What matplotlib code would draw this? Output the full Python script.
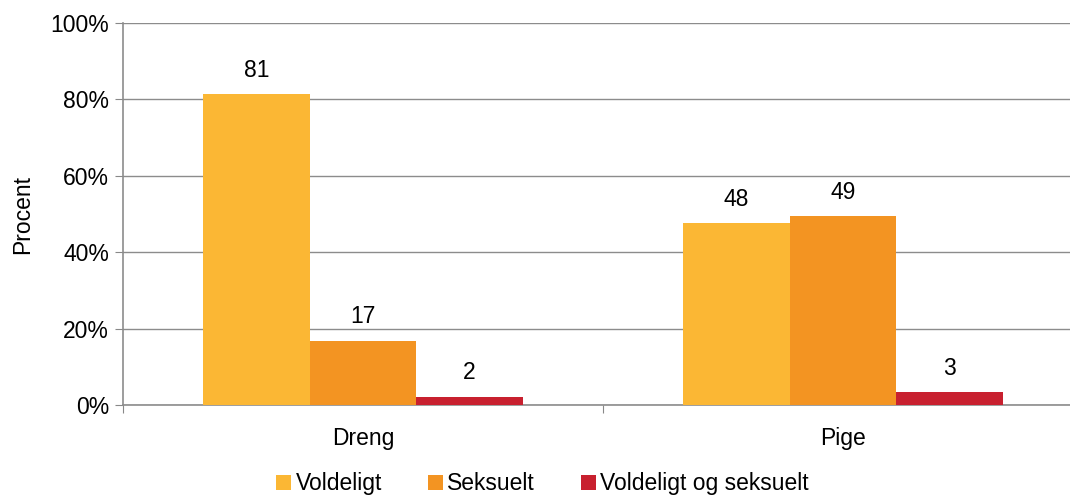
import numpy as np
import matplotlib.pyplot as plt
from matplotlib.patches import Patch

plt.rcParams['font.family'] = ['Liberation Sans', 'DejaVu Sans']

# data
categories = ["Dreng", "Pige"]
series = ["Voldeligt", "Seksuelt", "Voldeligt og seksuelt"]
heights = [
    [81.4, 47.6],   # Voldeligt
    [16.8, 49.4],   # Seksuelt
    [2.1, 3.3],     # Voldeligt og seksuelt
]
labels = [
    ["81", "48"],
    ["17", "49"],
    ["2", "3"],
]
colors = ["#FBB734", "#F39422", "#C8202F"]
yticks = [0, 20, 40, 60, 80, 100]
ytick_labels = ["0%", "20%", "40%", "60%", "80%", "100%"]

fs = 16.5

fig = plt.figure(figsize=(10.7, 4.97), dpi=100)
ax = fig.add_axes([123 / 1070, 1 - 405 / 497, 960 / 1070, 382 / 497])

x = np.arange(len(categories))
bw = 0.222
for i, (h, lab, c) in enumerate(zip(heights, labels, colors)):
    pos = x + (i - 1) * bw
    ax.bar(pos, h, width=bw, color=c, zorder=3)
    for p, v, t in zip(pos, h, lab):
        ax.annotate(t, (p, v), xytext=(0, 9), textcoords="offset points",
                    ha="center", va="bottom", fontsize=fs)

ax.set_xlim(-0.5, 1.5)
ax.set_ylim(0, 100)
ax.set_yticks(yticks)
ax.set_yticklabels(ytick_labels, fontsize=fs)
ax.set_xticks([-0.5, 0.5, 1.5])
ax.set_xticklabels([])
ax.set_xticks(x, minor=True)
ax.set_xticklabels(categories, minor=True, fontsize=fs)
ax.tick_params(axis="x", which="minor", length=0, pad=16)
ax.tick_params(axis="x", which="major", length=6, color="#888888", direction="out")
ax.tick_params(axis="y", length=6, color="#888888", direction="out", pad=4)

ax.grid(axis="y", color="#8c8c8c", linewidth=1, zorder=0)
for s in ["top", "right"]:
    ax.spines[s].set_visible(False)
for s in ["left", "bottom"]:
    ax.spines[s].set_color("#8c8c8c")
    ax.spines[s].set_linewidth(1.2)

ax.set_ylabel("Procent", fontsize=fs, labelpad=12)

handles = [Patch(facecolor=c) for c in colors]
fig.legend(handles, series, loc="lower center", bbox_to_anchor=(0.507, -0.038),
           ncol=3, frameon=False, fontsize=fs, handlelength=0.65,
           handleheight=0.65, handletextpad=0.2, columnspacing=2.0)

fig.savefig("out.png", dpi=100)
